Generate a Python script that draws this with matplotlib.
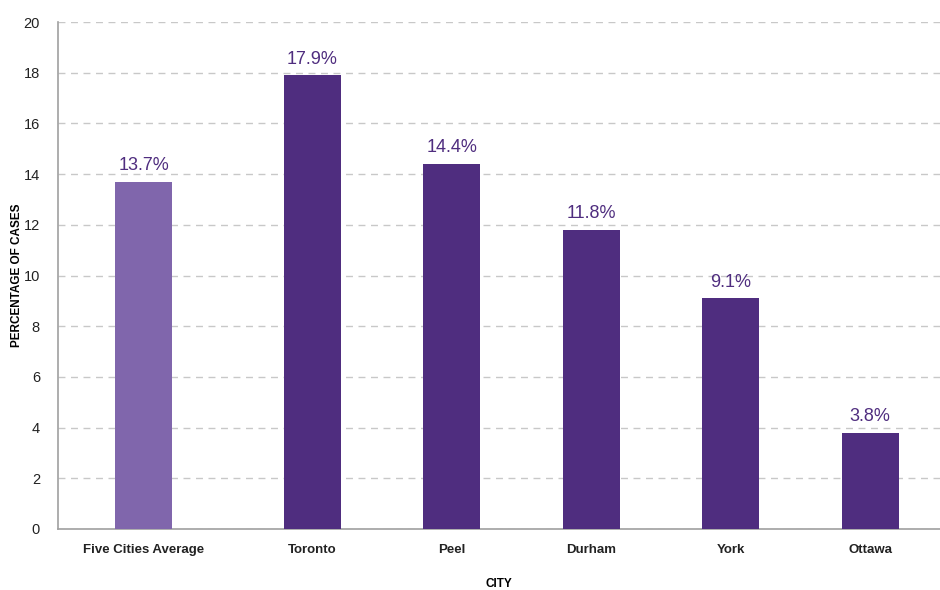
import matplotlib
matplotlib.use('Agg')
import matplotlib.pyplot as plt
import numpy as np

# ── data ──────────────────────────────────────────────────────────────────────
cities = ['Five Cities Average', 'Toronto', 'Peel', 'Durham', 'York', 'Ottawa']
pct    = [13.7, 17.9, 14.4, 11.8, 9.1, 3.8]
y_ticks = [0, 2, 4, 6, 8, 10, 12, 14, 16, 18, 20]

AVG_COLOR  = '#8066AC'
CITY_COLOR = '#4F2D7F'
GRID_COLOR = '#C8C8C8'

plt.rcParams['font.family'] = ['Liberation Sans', 'DejaVu Sans']

fig = plt.figure(figsize=(9.4, 5.9), dpi=100)
ax = fig.add_axes([0.0617, 0.1034, 0.9383, 0.8593])

# average bar sits a little apart from the individual cities
gap = 0.21
x = np.arange(len(cities)) + np.r_[0, np.full(len(cities) - 1, gap)]
colors = [AVG_COLOR] + [CITY_COLOR] * (len(cities) - 1)

bars = ax.bar(x, pct, width=0.41, color=colors, zorder=3)
for bar, v in zip(bars, pct):
    ax.text(bar.get_x() + bar.get_width() / 2, v + 0.3, f'{v}%',
            ha='center', va='bottom', color=CITY_COLOR, fontsize=13)

ax.set_xlim(x[0] - 0.613, x[-1] + 0.5)
ax.set_ylim(0, 20)
ax.set_yticks(y_ticks)
ax.set_xticks(x)
ax.set_xticklabels(cities, fontweight='bold', fontsize=9.5)
ax.tick_params(axis='both', length=0, colors='#222222')
ax.tick_params(axis='y', labelsize=10.5, pad=13)
ax.tick_params(axis='x', pad=11)

ax.yaxis.grid(True, linestyle=(0, (5, 4)), color=GRID_COLOR, linewidth=1, zorder=0)
ax.set_axisbelow(True)
for side in ['top', 'right']:
    ax.spines[side].set_visible(False)
for side in ['left', 'bottom']:
    ax.spines[side].set_color('#A0A0A0')
    ax.spines[side].set_linewidth(1.2)

ax.set_ylabel('PERCENTAGE OF CASES', fontweight='bold', fontsize=8.5, va='center')
ax.yaxis.set_label_coords(-0.0465, 0.5)
ax.set_xlabel('CITY', fontweight='bold', fontsize=8.5, va='center')
ax.xaxis.set_label_coords(0.5, -0.108)

fig.savefig('out.png', dpi=100, facecolor='white')
